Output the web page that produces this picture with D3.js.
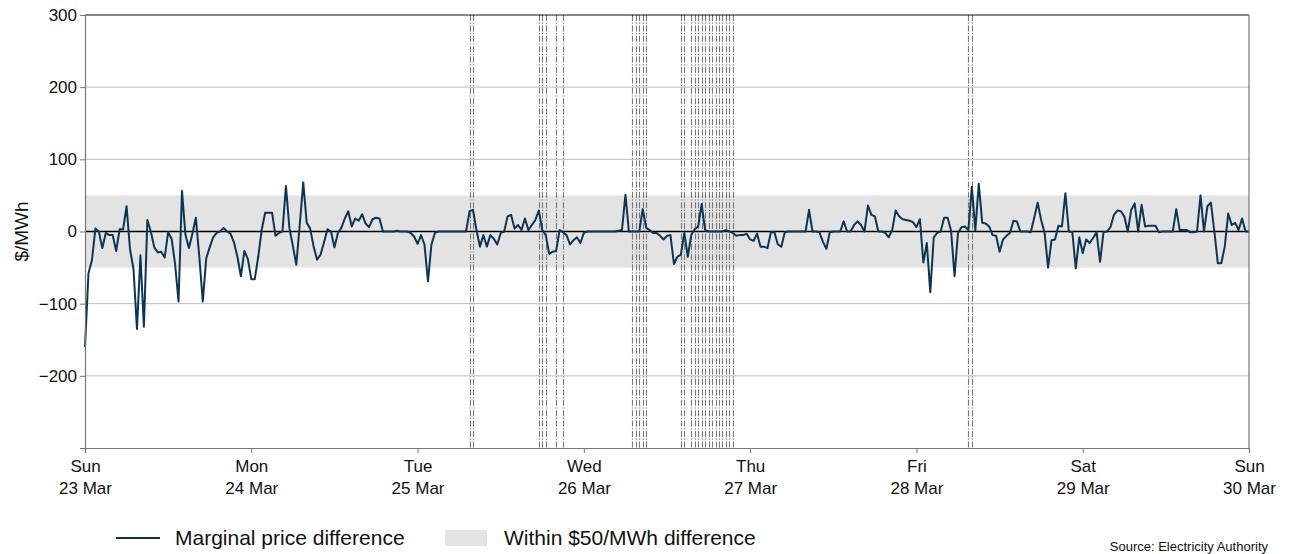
<!DOCTYPE html>
<html>
<head>
<meta charset="utf-8">
<script src="https://cdn.jsdelivr.net/npm/d3@7"></script>
<style>
html,body{margin:0;padding:0;background:#fff;}
svg{display:block;font-family:"Liberation Sans",Arial,Helvetica,sans-serif;}
</style>
</head>
<body>
<svg id="chart" width="1290" height="554"></svg>
<script>
// ---- Data (half-hourly marginal price difference, $/MWh) ----
const startTime = "2025-03-23T00:00:00Z";
const sun23 = [-160,-58,-40,4,0,-23,-2,-5,-5,-27,3,3,35,-25,-52,-135,-33,-132,16,0,-22,-29,-28,-36,-1,-10,-45,-97,56,-5,-23,-3,19,-35,-97,-37,-22,-8,-2,0,5,0,-3,-15,-35,-62,-27,-38];
const mon24 = [-66,-66,-35,2,26,26,26,-6,-2,0,63,5,-20,-46,10,68,12,4,-21,-39,-32,-15,3,0,-22,-2,5,18,28,7,18,15,24,11,6,17,19,18,0,0,0,0,1,0,0,0,-2,-7];
const tue25 = [-17,-5,-18,-69,-18,-2,0,0,0,0,0,0,0,0,0,28,30,2,-21,-5,-21,-5,-10,-18,-2,0,21,23,4,9,2,18,2,9,16,29,2,-5,-31,-28,-27,2,-1,-5,-18,-12,-8,-16];
const wed26 = [-2,0,0,0,0,0,0,0,0,0,1,2,51,0,0,0,0,31,5,2,-2,-2,-6,-11,-6,-5,-45,-35,-32,-2,-35,-5,3,7,38,2,0,0,0,0,0,2,0,-2,-6,-5,-5,-3];
const thu27 = [-11,-13,-3,-21,-21,-23,-1,-1,-18,-21,-1,0,0,0,0,0,0,30,0,0,-1,-14,-24,-1,0,0,0,14,0,0,9,14,9,0,36,23,21,0,0,-2,-8,2,29,21,17,16,15,13];
const fri28 = [6,17,-43,-16,-84,-8,-2,0,19,19,1,-62,-2,6,7,2,62,2,66,12,11,7,-5,-6,-28,-11,-6,-2,15,14,0,0,0,-1,19,40,16,-2,-50,-12,-11,8,7,53,0,-1,-51,-8];
const sat29 = [-30,-11,-16,-9,-1,-42,-1,0,6,23,29,28,21,0,30,39,0,37,7,8,8,8,-1,0,0,0,0,31,2,2,2,-1,-1,0,50,0,35,40,0,-44,-44,-21,25,9,12,2,18,0];
const sun30 = [0];

// Flagged trading periods (vertical dashed lines)
const flaggedTimes = [
  "2025-03-25T07:30","2025-03-25T08:00",
  "2025-03-25T17:30","2025-03-25T18:00","2025-03-25T18:30","2025-03-25T20:00","2025-03-25T21:00",
  "2025-03-26T07:00","2025-03-26T07:30","2025-03-26T08:00","2025-03-26T08:30","2025-03-26T09:00",
  "2025-03-26T14:00","2025-03-26T14:30","2025-03-26T15:30","2025-03-26T16:00","2025-03-26T16:30",
  "2025-03-26T17:00","2025-03-26T17:30","2025-03-26T18:00","2025-03-26T18:30","2025-03-26T19:00",
  "2025-03-26T19:30","2025-03-26T20:00","2025-03-26T20:30","2025-03-26T21:00","2025-03-26T21:30",
  "2025-03-28T07:30","2025-03-28T08:00"
];

// Tick labels
const tickDays = ["Sun","Mon","Tue","Wed","Thu","Fri","Sat","Sun"];
const tickDates = ["23 Mar","24 Mar","25 Mar","26 Mar","27 Mar","28 Mar","29 Mar","30 Mar"];
const yTicks = [-200,-100,0,100,200,300];
const bandLimit = 50;

// ---- Build ----
const values = [].concat(sun23, mon24, tue25, wed26, thu27, fri28, sat29, sun30);
const t0 = new Date(startTime);
const HALF = 30*60*1000;
const series = values.map((v,i)=>({t:new Date(t0.getTime()+i*HALF), v}));
const tickTimes = tickDays.map((d,i)=>new Date(t0.getTime()+i*48*HALF));

const svg = d3.select("#chart");
const L=85, R=1249, T=15, B=448;
const x = d3.scaleUtc().domain([tickTimes[0], tickTimes[tickTimes.length-1]]).range([L,R]);
const y = d3.scaleLinear().domain([-300,300]).range([B,T]);

// band
svg.append("rect").attr("x",L).attr("width",R-L)
  .attr("y",y(bandLimit)).attr("height",y(-bandLimit)-y(bandLimit))
  .attr("fill","#e3e3e3");

// grid
svg.append("g").selectAll("line").data(yTicks.filter(d=>d!==0 && d!==300)).join("line")
  .attr("x1",L).attr("x2",R).attr("y1",d=>y(d)).attr("y2",d=>y(d))
  .attr("stroke","#bdbdbd").attr("stroke-width",1);

// flagged dashed lines
svg.append("g").selectAll("line").data(flaggedTimes).join("line")
  .attr("x1",d=>Math.round(x(new Date(d+":00Z")))+0.5).attr("x2",d=>Math.round(x(new Date(d+":00Z")))+0.5)
  .attr("y1",T).attr("y2",B)
  .attr("stroke","#777").attr("stroke-width",1.1).attr("stroke-dasharray","6,1.6,1.2,1.6");

// zero line
svg.append("line").attr("x1",L).attr("x2",R).attr("y1",y(0)).attr("y2",y(0))
  .attr("stroke","#000").attr("stroke-width",1.6);

// series line
svg.append("path").datum(series)
  .attr("d", d3.line().x(d=>x(d.t)).y(d=>y(d.v)))
  .attr("fill","none").attr("stroke","#0d3552").attr("stroke-width",2).attr("stroke-linejoin","round");

// spines
svg.append("line").attr("x1",L).attr("x2",R).attr("y1",T).attr("y2",T).attr("stroke","#111").attr("stroke-width",1.2);
svg.append("line").attr("x1",R).attr("x2",R).attr("y1",T).attr("y2",B).attr("stroke","#777").attr("stroke-width",1.2);

// y axis
const yAxis = svg.append("g").attr("transform",`translate(${L},0)`)
  .call(d3.axisLeft(y).tickValues([-300].concat(yTicks)).tickSize(5)
    .tickFormat(d=> d===-300 ? "" : (d<0 ? "\u2212"+Math.abs(d) : String(d))));
yAxis.select(".domain").attr("stroke","#777").attr("stroke-width",1.2);
yAxis.selectAll(".tick line").attr("stroke","#777");
yAxis.selectAll("text").attr("font-size",17).attr("fill","#111").attr("x",-8).attr("font-family","Liberation Sans, Arial, sans-serif");

// x axis
const xAxis = svg.append("g").attr("transform",`translate(0,${B})`)
  .call(d3.axisBottom(x).tickValues(tickTimes).tickSize(5).tickFormat(""));
xAxis.select(".domain").attr("stroke","#777").attr("stroke-width",1.2);
xAxis.selectAll(".tick line").attr("stroke","#777");
xAxis.selectAll(".tick").each(function(d,i){
  const g = d3.select(this);
  g.append("text").attr("y",24).attr("text-anchor","middle").attr("font-size",17).attr("fill","#111").text(tickDays[i]);
  g.append("text").attr("y",46).attr("text-anchor","middle").attr("font-size",17).attr("fill","#111").text(tickDates[i]);
});

// y label
svg.append("text").attr("transform",`translate(28,${y(0)}) rotate(-90)`)
  .attr("text-anchor","middle").attr("font-size",19).attr("fill","#111").text("$/MWh");

// legend
svg.append("line").attr("x1",116).attr("x2",160).attr("y1",538).attr("y2",538)
  .attr("stroke","#0d3552").attr("stroke-width",2);
svg.append("text").attr("x",175).attr("y",545).attr("font-size",21).attr("fill","#111").text("Marginal price difference");
svg.append("rect").attr("x",445).attr("y",530).attr("width",42).attr("height",16).attr("fill","#e3e3e3");
svg.append("text").attr("x",504).attr("y",545).attr("font-size",21).attr("fill","#111").text("Within $50/MWh difference");

// source
svg.append("text").attr("x",1268).attr("y",551).attr("text-anchor","end").attr("font-size",13).attr("fill","#111").text("Source: Electricity Authority");
</script>
</body>
</html>
